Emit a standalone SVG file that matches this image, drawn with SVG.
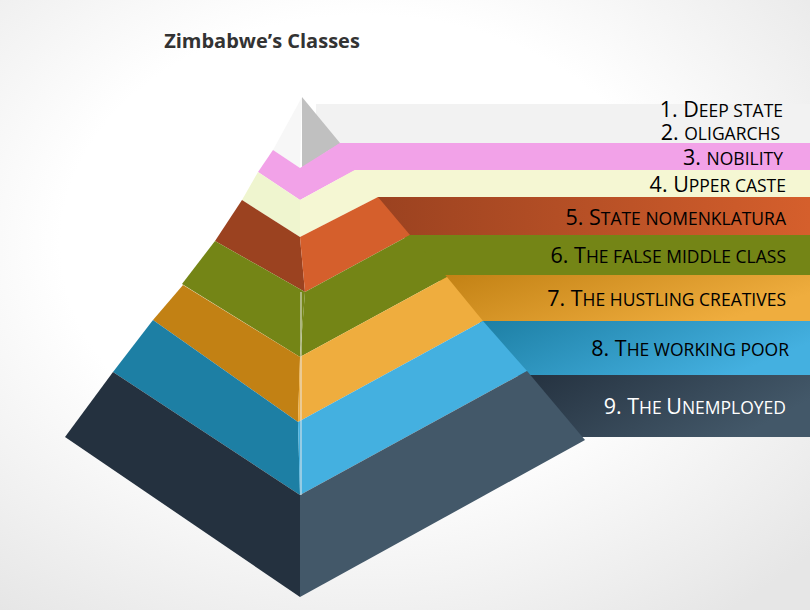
<svg xmlns="http://www.w3.org/2000/svg" width="810" height="610" viewBox="0 0 810 610">
<defs>
<radialGradient id="bg" cx="0.45" cy="0.4" r="0.75"><stop offset="0.5" stop-color="#ffffff"/><stop offset="1" stop-color="#e6e6e6"/></radialGradient>
<linearGradient id="gBrown" x1="0" y1="0" x2="1" y2="0"><stop offset="0" stop-color="#9B4220"/><stop offset="1" stop-color="#D55F2C"/></linearGradient>
<linearGradient id="gOr" x1="0" y1="0" x2="1" y2="0.4"><stop offset="0" stop-color="#C28114"/><stop offset="1" stop-color="#EFAD3E"/></linearGradient>
<linearGradient id="gBl" x1="0" y1="0" x2="1" y2="0.4"><stop offset="0" stop-color="#1D7FA4"/><stop offset="1" stop-color="#44B0E0"/></linearGradient>
<linearGradient id="gDk" x1="0" y1="0" x2="1" y2="0.4"><stop offset="0" stop-color="#24313F"/><stop offset="1" stop-color="#435869"/></linearGradient>
<style>
text{font-family:"Open Sans","Liberation Sans",sans-serif;font-size:21.5px;text-anchor:end;fill:#000}
tspan.s{font-size:17.5px}
.t{font-weight:bold;fill:#333;text-anchor:middle;font-size:20px}
</style>
</defs>
<rect width="810" height="610" fill="url(#bg)"/>
<text class="t" x="262" y="48">Zimbabwe’s Classes</text>
<rect x="316" y="104" width="494" height="40" fill="#F2F2F2"/>
<rect x="330" y="143" width="480" height="28" fill="#F2A2E8"/>
<rect x="340" y="170" width="470" height="28" fill="#F5F7D3"/>
<rect x="378" y="197" width="432" height="39" fill="url(#gBrown)"/>
<rect x="405" y="235" width="405" height="41" fill="#748516"/>
<rect x="440" y="275" width="370" height="47" fill="url(#gOr)"/>
<rect x="480" y="321" width="330" height="55" fill="url(#gBl)"/>
<rect x="520" y="375" width="290" height="62" fill="url(#gDk)"/>
<g id="l0"><polygon points="302,97 273,150 300,168" fill="#F7F7F7"/><polygon points="302,97 302,168 340,143" fill="#C0C0C0"/></g>
<g id="l1"><polygon points="273,150 300,168 300,200 258,172" fill="#F2A2E8"/><polygon points="300,168 340,143 355,170 300,200" fill="#F2A2E8"/></g>
<g id="l2"><polygon points="258,172 300,200 300,237 242,200" fill="#EFF5CF"/><polygon points="300,200 355,170 378,197 300,237" fill="#F5F7D3"/></g>
<g id="l3"><polygon points="242,200 300,237 305,292 215,241" fill="#9B4220"/><polygon points="300,237 378,197 410,235 305,292" fill="#D55F2C"/></g>
<g id="l4"><polygon points="215,241 305,292 300,357 182,284" fill="#748516"/><polygon points="305,292 410,235 447,277 300,357" fill="#748516"/></g>
<g id="l5"><polygon points="183,285 300,357 298,422 153,320" fill="#C28114"/><polygon points="300,357 447,277 483,321 298,422" fill="#EFAD3E"/></g>
<g id="l6"><polygon points="153,320 298,422 300,495 113,372" fill="#1D7FA4"/><polygon points="298,422 483,321 527,371 300,495" fill="#44B0E0"/></g>
<g id="l7"><polygon points="113,372 300,495 300,597 65,437" fill="#24313F"/><polygon points="300,495 527,371 585,440 300,597" fill="#435869"/></g>
<line x1="301" y1="292" x2="301" y2="495" stroke="#e8e8e8" stroke-width="1"/>
<g id="labels">
<text x="783" y="117">1. D<tspan class="s">EEP STATE</tspan></text>
<text x="780" y="140">2. <tspan class="s">OLIGARCHS</tspan></text>
<text x="783" y="165">3. <tspan class="s">NOBILITY</tspan></text>
<text x="786" y="192">4. U<tspan class="s">PPER CASTE</tspan></text>
<text x="786" y="225">5. S<tspan class="s">TATE NOMENKLATURA</tspan></text>
<text x="786" y="263">6. T<tspan class="s">HE FALSE MIDDLE CLASS</tspan></text>
<text x="786" y="306">7. T<tspan class="s">HE HUSTLING CREATIVES</tspan></text>
<text x="789" y="356">8. T<tspan class="s">HE WORKING POOR</tspan></text>
<text x="786" y="414" style="fill:#fff">9. T<tspan class="s">HE </tspan>U<tspan class="s">NEMPLOYED</tspan></text>
</g>
</svg>
